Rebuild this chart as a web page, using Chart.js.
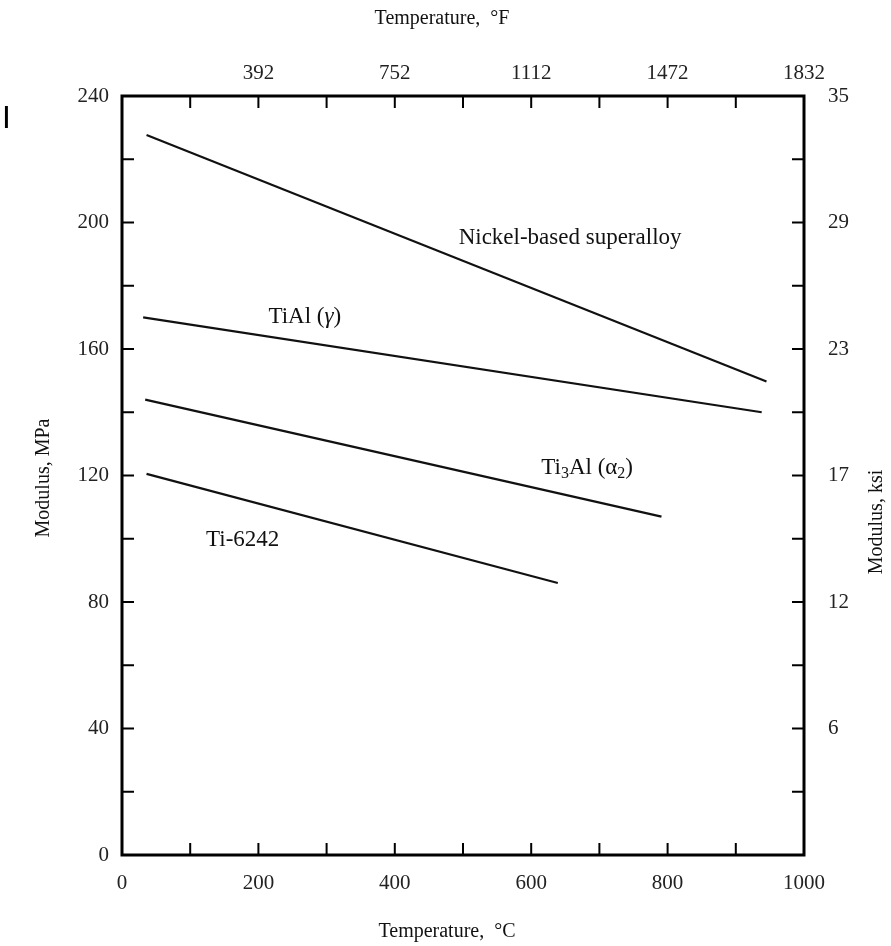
<!DOCTYPE html>
<html>
<head>
<meta charset="utf-8">
<script src="https://cdn.jsdelivr.net/npm/chart.js@4.4.1/dist/chart.umd.min.js"></script>
<style>
  html, body { margin: 0; padding: 0; background: #fff; }
  canvas { display: block; }
</style>
</head>
<body>
<canvas id="modChart" width="891" height="946"></canvas>
<script>
// series: temperature (°C) and modulus (MPa) end points
const nickelTemp = [36, 945];
const nickelMod = [227.7, 149.7];
const tialTemp = [31, 938];
const tialMod = [170, 140];
const ti3alTemp = [34, 791];
const ti3alMod = [144, 107];
const ti6242Temp = [36, 639];
const ti6242Mod = [120.5, 86];

// tick labels
const celsiusTicks = [0, 200, 400, 600, 800, 1000];
const fahrenheitTicks = [200, 400, 600, 800, 1000];
const fahrenheitLabels = ['392', '752', '1112', '1472', '1832'];
const mpaTicks = [0, 40, 80, 120, 160, 200, 240];
const ksiTicks = [40, 80, 120, 160, 200, 240];
const ksiLabels = ['6', '12', '17', '23', '29', '35'];

const serif = '"Liberation Serif", "DejaVu Serif", serif';

function pts(xs, ys) { return xs.map((v, i) => ({ x: v, y: ys[i] })); }

const lineStyle = { showLine: true, borderColor: '#111', borderWidth: 2.2, pointRadius: 0, fill: false };

// curve annotations (anchor in data units)
const curveLabels = [
  { parts: [['Nickel-based superalloy']], t: 657, m: 195 },
  { parts: [['TiAl ('], ['γ', 'italic'], [')']], t: 268, m: 170 },
  { parts: [['Ti'], ['3', 'sub'], ['Al ('], ['α'], ['2', 'sub'], [')']], t: 682, m: 122.5 },
  { parts: [['Ti-6242']], t: 177, m: 99.5 }
];

const decorations = {
  id: 'decorations',
  afterDraw(chart) {
    const ctx = chart.ctx;
    const a = chart.chartArea;
    const { x, x2, y, y2 } = chart.scales;
    ctx.save();
    ctx.strokeStyle = '#000';
    // inward ticks
    ctx.lineWidth = 2;
    const L = 12;
    ctx.beginPath();
    x.ticks.forEach(t => { const p = x.getPixelForValue(t.value); ctx.moveTo(p, a.bottom); ctx.lineTo(p, a.bottom - L); });
    x2.ticks.forEach(t => { const p = x2.getPixelForValue(t.value); ctx.moveTo(p, a.top); ctx.lineTo(p, a.top + L); });
    y.ticks.forEach(t => { const p = y.getPixelForValue(t.value); ctx.moveTo(a.left, p); ctx.lineTo(a.left + L, p); });
    y2.ticks.forEach(t => { const p = y2.getPixelForValue(t.value); ctx.moveTo(a.right, p); ctx.lineTo(a.right - L, p); });
    ctx.stroke();
    // frame
    ctx.lineWidth = 3;
    ctx.strokeRect(a.left, a.top, a.right - a.left, a.bottom - a.top);

    // curve labels
    ctx.fillStyle = '#111';
    ctx.textBaseline = 'middle';
    const size = 23;
    curveLabels.forEach(lb => {
      const fontFor = k => k === 'sub' ? `${Math.round(size * 0.68)}px ${serif}` : (k === 'italic' ? `italic ${size}px ${serif}` : `${size}px ${serif}`);
      let w = 0;
      lb.parts.forEach(p => { ctx.font = fontFor(p[1]); w += ctx.measureText(p[0]).width; });
      let cx = x.getPixelForValue(lb.t) - w / 2;
      const cy = y.getPixelForValue(lb.m);
      ctx.textAlign = 'left';
      lb.parts.forEach(p => {
        ctx.font = fontFor(p[1]);
        ctx.fillText(p[0], cx, p[1] === 'sub' ? cy + 6 : cy);
        cx += ctx.measureText(p[0]).width;
      });
    });

    // axis titles
    ctx.font = `20px ${serif}`;
    ctx.textAlign = 'center';
    ctx.fillText('Temperature,  °F', 442, 19);
    ctx.fillText('Temperature,  °C', 447, 932);
    ctx.save();
    ctx.translate(44, 478);
    ctx.rotate(-Math.PI / 2);
    ctx.fillText('Modulus, MPa', 0, 0);
    ctx.restore();
    ctx.save();
    ctx.translate(877, 522);
    ctx.rotate(-Math.PI / 2);
    ctx.fillText('Modulus, ksi', 0, 0);
    ctx.restore();

    // stray mark at the left edge of the scan
    ctx.font = '30px "DejaVu Sans", sans-serif';
    ctx.textAlign = 'left';
    ctx.fillStyle = '#000';
    ctx.fillText('I', 2, 120);
    ctx.restore();
  }
};

const tickFont = { family: serif, size: 21 };

new Chart(document.getElementById('modChart').getContext('2d'), {
  type: 'scatter',
  data: {
    datasets: [
      { label: 'Nickel-based superalloy', data: pts(nickelTemp, nickelMod), ...lineStyle },
      { label: 'TiAl (γ)', data: pts(tialTemp, tialMod), ...lineStyle },
      { label: 'Ti3Al (α2)', data: pts(ti3alTemp, ti3alMod), ...lineStyle },
      { label: 'Ti-6242', data: pts(ti6242Temp, ti6242Mod), ...lineStyle }
    ]
  },
  options: {
    responsive: false,
    animation: false,
    devicePixelRatio: 1,
    layout: { padding: 0 },
    plugins: { legend: { display: false }, tooltip: { enabled: false } },
    scales: {
      x: {
        type: 'linear', position: 'bottom', min: 0, max: 1000,
        afterFit: s => { s.height = 91; },
        grid: { display: false, drawTicks: false }, border: { display: false },
        ticks: {
          stepSize: 100, padding: 16, color: '#222', font: tickFont, maxRotation: 0, autoSkip: false,
          callback: v => celsiusTicks.includes(v) ? String(v) : ''
        }
      },
      x2: {
        type: 'linear', position: 'top', min: 0, max: 1000,
        afterFit: s => { s.height = 96; },
        grid: { display: false, drawTicks: false }, border: { display: false },
        ticks: {
          stepSize: 100, padding: 10, color: '#222', font: tickFont, maxRotation: 0, autoSkip: false,
          callback: v => { const i = fahrenheitTicks.indexOf(v); return i >= 0 ? fahrenheitLabels[i] : ''; }
        }
      },
      y: {
        type: 'linear', position: 'left', min: 0, max: 240,
        afterFit: s => { s.width = 122; },
        grid: { display: false, drawTicks: false }, border: { display: false },
        ticks: {
          stepSize: 20, padding: 13, color: '#222', font: tickFont, autoSkip: false,
          callback: v => mpaTicks.includes(v) ? String(v) : ''
        }
      },
      y2: {
        type: 'linear', position: 'right', min: 0, max: 240,
        afterFit: s => { s.width = 87; },
        grid: { display: false, drawTicks: false }, border: { display: false },
        ticks: {
          stepSize: 20, padding: 24, color: '#222', font: tickFont, autoSkip: false,
          callback: v => { const i = ksiTicks.indexOf(v); return i >= 0 ? ksiLabels[i] : ''; }
        }
      }
    }
  },
  plugins: [decorations]
});
</script>
</body>
</html>
